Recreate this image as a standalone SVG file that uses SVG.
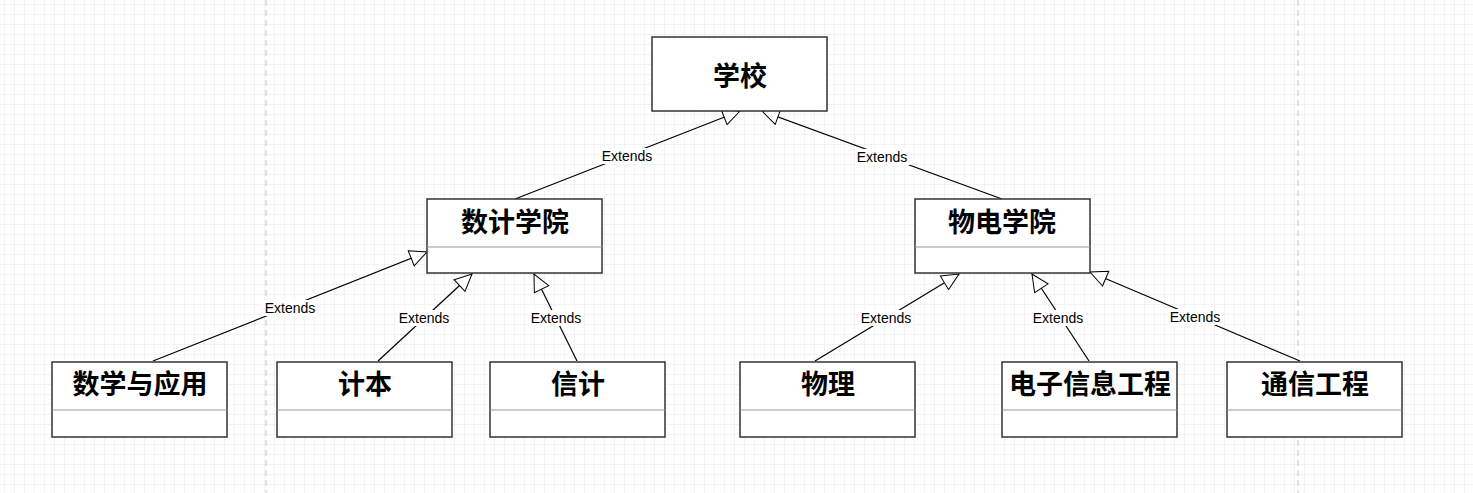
<svg xmlns="http://www.w3.org/2000/svg" width="1473" height="493" viewBox="0 0 1473 493">
<defs>
<pattern id="g" width="10" height="10" patternUnits="userSpaceOnUse" x="5" y="5"><path d="M10 0V10M0 10H10" fill="none" stroke="#e6e6e6" stroke-width="1"/></pattern>
<marker id="tri" markerUnits="userSpaceOnUse" markerWidth="20" markerHeight="20" refX="18" refY="9" orient="auto" viewBox="0 0 20 18"><path d="M1 1L18 9L1 17Z" fill="#fff" stroke="#000" stroke-width="1"/></marker>
<style>
.b{fill:#fff;stroke:#333;stroke-width:1.5}
.d{stroke:#999;stroke-width:1}
.t{font-family:"Noto Sans CJK SC",sans-serif;font-weight:bold;font-size:27px;text-anchor:middle;fill:#000}
.e{stroke:#000;stroke-width:1.2;fill:none;marker-end:url(#tri)}
.lb{fill:#fff}
.l{font-family:"Liberation Sans",Arial,sans-serif;font-size:14px;text-anchor:middle;fill:#000}
</style>
</defs>
<rect width="1473" height="493" fill="#fff"/>
<rect width="1473" height="493" fill="url(#g)"/>
<path d="M266 0V493M1298 0V493" stroke="#c8c8c8" stroke-dasharray="6 4"/>
<g id="edges">
<path class="e" d="M515 199L740 111"/>
<path class="e" d="M1002 199L762 111"/>
<path class="e" d="M153 361L427 252"/>
<path class="e" d="M378 361L472 274"/>
<path class="e" d="M577 361L534 274"/>
<path class="e" d="M815 361L959 274"/>
<path class="e" d="M1089 361L1032 274"/>
<path class="e" d="M1300 361L1090 272"/>
<g>
<rect class="lb" x="600" y="148" width="55" height="16"/><text class="l" x="627" y="161">Extends</text>
<rect class="lb" x="855" y="149" width="55" height="16"/><text class="l" x="882" y="162">Extends</text>
<rect class="lb" x="262" y="300" width="55" height="16"/><text class="l" x="290" y="313">Extends</text>
<rect class="lb" x="397" y="310" width="55" height="16"/><text class="l" x="424" y="323">Extends</text>
<rect class="lb" x="529" y="310" width="55" height="16"/><text class="l" x="556" y="323">Extends</text>
<rect class="lb" x="859" y="310" width="55" height="16"/><text class="l" x="886" y="323">Extends</text>
<rect class="lb" x="1031" y="310" width="55" height="16"/><text class="l" x="1058" y="323">Extends</text>
<rect class="lb" x="1168" y="309" width="55" height="16"/><text class="l" x="1195" y="322">Extends</text>
</g>
</g>
<g id="school"><rect class="b" x="652" y="37" width="175" height="74"/><text class="t" x="740" y="86">学校</text></g>
<g id="shuji"><rect class="b" x="427" y="199" width="175" height="74"/><line class="d" x1="427" y1="247" x2="602" y2="247"/><text class="t" x="515" y="232">数计学院</text></g>
<g id="wudian"><rect class="b" x="915" y="199" width="175" height="74"/><line class="d" x1="915" y1="247" x2="1090" y2="247"/><text class="t" x="1002" y="232">物电学院</text></g>
<g id="n1"><rect class="b" x="52" y="362" width="175" height="75"/><line class="d" x1="52" y1="410" x2="227" y2="410"/><text class="t" x="140" y="394">数学与应用</text></g>
<g id="n2"><rect class="b" x="277" y="362" width="175" height="75"/><line class="d" x1="277" y1="410" x2="452" y2="410"/><text class="t" x="365" y="394">计本</text></g>
<g id="n3"><rect class="b" x="490" y="362" width="175" height="75"/><line class="d" x1="490" y1="410" x2="665" y2="410"/><text class="t" x="578" y="394">信计</text></g>
<g id="n4"><rect class="b" x="740" y="362" width="175" height="75"/><line class="d" x1="740" y1="410" x2="915" y2="410"/><text class="t" x="828" y="394">物理</text></g>
<g id="n5"><rect class="b" x="1002" y="362" width="175" height="75"/><line class="d" x1="1002" y1="410" x2="1177" y2="410"/><text class="t" x="1090" y="394">电子信息工程</text></g>
<g id="n6"><rect class="b" x="1227" y="362" width="175" height="75"/><line class="d" x1="1227" y1="410" x2="1402" y2="410"/><text class="t" x="1315" y="394">通信工程</text></g>
</svg>
